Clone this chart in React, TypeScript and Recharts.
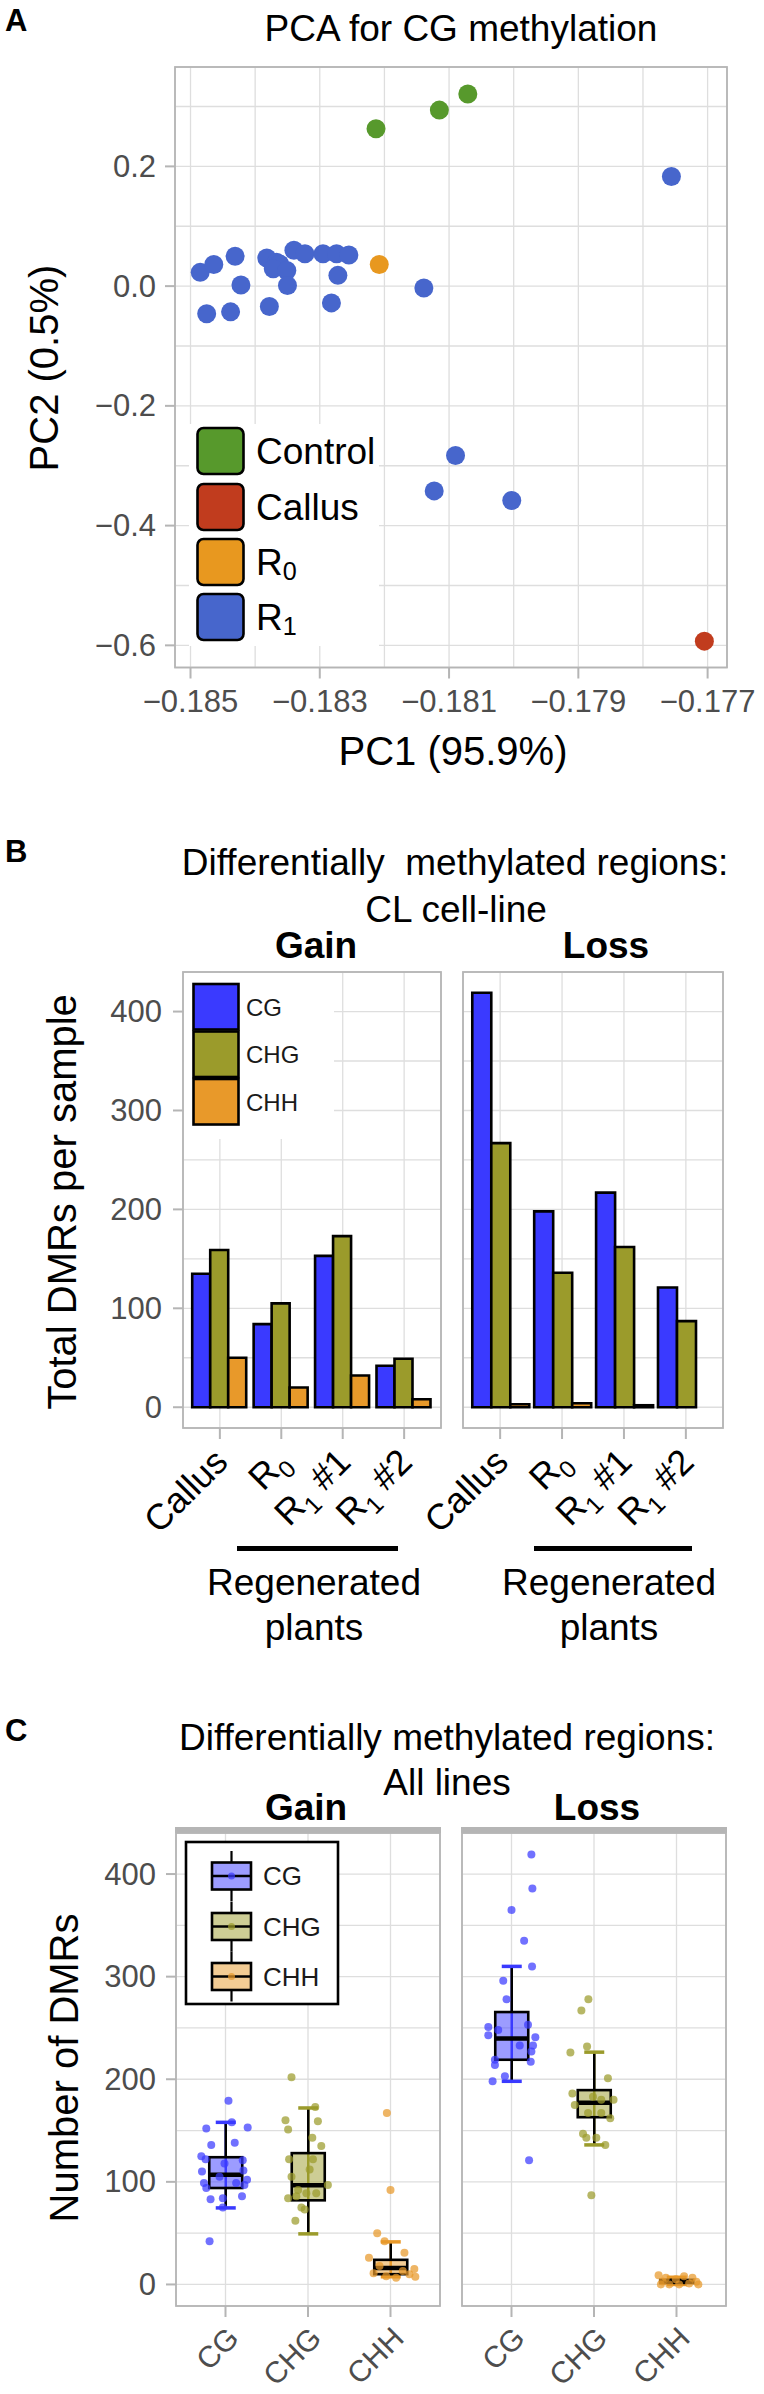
import React from "react";
import {
  ScatterChart,
  Scatter,
  BarChart,
  Bar,
  ComposedChart,
  XAxis,
  YAxis,
  CartesianGrid,
} from "recharts";

const FONT = "'Liberation Sans', Arial, Helvetica, sans-serif";
const GRID = "#dedede";
const FRAME = "#b5b5b5";
const GRAYTXT = "#4d4d4d";

// ---------- A: PCA ----------
const pcaGroups = ["Control", "Callus", "R_0", "R_1"];
const pcaColors = ["#57992c", "#c13c1e", "#e8981f", "#4766cc"];
const controlPts = [
  [-0.18213, 0.263],
  [-0.18115, 0.294],
  [-0.18071, 0.321],
];
const callusPts = [[-0.17705, -0.593]];
const r0Pts = [[-0.18208, 0.036]];
const r1Pts = [
  [-0.18485, 0.023],
  [-0.18464, 0.036],
  [-0.18431, 0.05],
  [-0.18422, 0.002],
  [-0.18475, -0.046],
  [-0.18438, -0.043],
  [-0.18382, 0.047],
  [-0.18367, 0.04],
  [-0.18362, 0.037],
  [-0.18372, 0.029],
  [-0.18351, 0.026],
  [-0.1835, 0.001],
  [-0.18378, -0.034],
  [-0.1834, 0.06],
  [-0.18323, 0.054],
  [-0.18295, 0.054],
  [-0.18274, 0.054],
  [-0.18255, 0.052],
  [-0.18272, 0.018],
  [-0.18282, -0.028],
  [-0.18139, -0.003],
  [-0.17756, 0.183],
  [-0.1809, -0.283],
  [-0.18123, -0.342],
  [-0.18003, -0.358],
];
const pcaSeries = [controlPts, callusPts, r0Pts, r1Pts];
const pcaXMajor = [-0.185, -0.183, -0.181, -0.179, -0.177];
const pcaXMinor = [-0.184, -0.182, -0.18, -0.178];
const pcaYMajor = [-0.6, -0.4, -0.2, 0, 0.2];
const pcaYMinor = [-0.5, -0.3, -0.1, 0.1, 0.3];

// ---------- B: DMRs, CL cell-line ----------
const samples = ["Callus", "R_0", "R_1 #1", "R_1 #2"];
const contexts = ["CG", "CHG", "CHH"];
const ctxColors = ["#3a3aff", "#9b9b2b", "#e8992a"];
const gainCG = [135, 84, 153, 42];
const gainCHG = [159, 105, 173, 49];
const gainCHH = [50, 20, 32, 8];
const lossCG = [419, 198, 217, 121];
const lossCHG = [267, 136, 162, 87];
const lossCHH = [3, 4, 2, 0];
const dmrMajor = [0, 100, 200, 300, 400];
const dmrMinor = [50, 150, 250, 350];

// ---------- C: DMRs, all lines (lo, q1, median, q3, hi) ----------
const gainStats = [
  [74.6, 94, 107, 124, 158],
  [49.3, 82, 96.6, 128, 172],
  [7.5, 10, 16, 24, 41.5],
];
const lossStats = [
  [198, 219, 239.6, 265.5, 310],
  [136, 163, 177, 189.4, 226.4],
  [0, 1.5, 3, 4.5, 7],
];
// [jitter, value]
const gainCGPts = [
  [0.036, 179], [-0.233, 152], [0.076, 158], [0.269, 153], [-0.173, 136], [0.112, 138],
  [-0.293, 125], [-0.241, 122], [0.209, 121], [-0.285, 110], [0.217, 111], [-0.261, 99],
  [0.261, 102], [-0.233, 94], [0.229, 97], [-0.181, 83], [-0.032, 84], [0.2, 86],
  [-0.193, 42], [-0.012, 118], [-0.072, 105], [0.129, 99], [-0.032, 75],
];
const gainCHGPts = [
  [-0.2, 202], [-0.273, 160], [-0.241, 151], [0.088, 173], [0.12, 159], [0.052, 143],
  [0.161, 135], [-0.229, 122], [0.06, 122], [0.02, 112], [-0.2, 105], [0.241, 97],
  [-0.241, 84], [-0.141, 86], [-0.02, 89], [-0.08, 75], [-0.04, 73], [-0.153, 62],
  [0.1, 89], [-0.12, 92],
];
const gainCHHPts = [
  [-0.044, 167], [0, 92], [-0.161, 50], [-0.072, 42], [0.169, 31], [-0.261, 26],
  [-0.205, 11], [0.289, 15], [0.301, 7.5], [0.149, 13], [0.068, 6.5], [-0.052, 8],
  [-0.133, 18], [0.229, 10],
];
const lossCGPts = [
  [0.241, 419], [0.253, 386], [0, 365], [0.153, 335], [0.249, 310], [-0.1, 296],
  [-0.06, 278], [-0.281, 251], [-0.281, 243], [-0.161, 248], [0.2, 253], [0.289, 241],
  [0.261, 233], [0.1, 233], [0.241, 227], [-0.201, 219], [-0.201, 214], [-0.08, 203],
  [-0.229, 198], [0.233, 217], [0.213, 121],
];
const lossCHGPts = [
  [-0.068, 278], [-0.153, 267], [-0.084, 232], [-0.286, 226], [0.169, 201], [-0.262, 186],
  [0.237, 180], [-0.233, 175], [0.197, 162], [-0.072, 167], [0.088, 167], [-0.133, 147],
  [-0.093, 143], [0.028, 143], [0.137, 136], [-0.032, 87], [-0.012, 183], [0.088, 180],
];
const lossCHHPts = [
  [-0.217, 9], [-0.169, 3], [-0.088, 0], [0.032, 0], [0.153, 1], [0.241, 2.6],
  [0.193, 6.5], [-0.129, 6.5], [-0.008, 5], [0.092, 8], [-0.189, 0], [0.265, 0],
];

// ---------- layout ----------
const A_H = 720;
const AX0 = 175, AX1 = 727, AY0 = 67, AY1 = 667.5;
const B_TOP = 900, B_H = 660, BY0 = 972, BY1 = 1428;
const C_TOP = 1800, C_H = 594, CY0 = 1833, CY1 = 2306;
const B_GAIN = { x0: 183, x1: 441 };
const B_LOSS = { x0: 463, x1: 723 };
const C_GAIN = { x0: 176, x1: 440 };
const C_LOSS = { x0: 462, x1: 726 };

const minus = (s: string) => s.replace("-", "\u2212");

function SubText({ text, size }: { text: string; size: number }) {
  const i = text.indexOf("_");
  if (i < 0) return <>{text}</>;
  const shift = size * 0.25;
  const rest = text.slice(i + 2);
  return (
    <>
      {text.slice(0, i)}
      <tspan fontSize={size * 0.68} dy={shift}>
        {text[i + 1]}
      </tspan>
      {rest ? <tspan dy={-shift}>{rest}</tspan> : null}
    </>
  );
}

function PcaChart() {
  const xTicks = [...pcaXMajor, ...pcaXMinor].sort((a, b) => a - b);
  const yTicks = [...pcaYMajor, ...pcaYMinor].sort((a, b) => a - b);
  const xTick = (p: any) => {
    const v = p.payload.value;
    if (!pcaXMajor.includes(v)) return <g />;
    return (
      <g>
        <line x1={p.x} x2={p.x} y1={p.y} y2={p.y + 11} stroke={FRAME} strokeWidth={2} />
        <text x={p.x} y={p.y + 34} textAnchor="middle" dominantBaseline="central" fontSize={31} fill={GRAYTXT} fontFamily={FONT}>
          {minus(v.toFixed(3))}
        </text>
      </g>
    );
  };
  const yTick = (p: any) => {
    const v = p.payload.value;
    if (!pcaYMajor.includes(v)) return <g />;
    return (
      <g>
        <line x1={p.x - 10} x2={p.x} y1={p.y} y2={p.y} stroke={FRAME} strokeWidth={2} />
        <text x={p.x - 19} y={p.y} textAnchor="end" dominantBaseline="central" fontSize={31} fill={GRAYTXT} fontFamily={FONT}>
          {minus(v.toFixed(1))}
        </text>
      </g>
    );
  };
  return (
    <div style={{ position: "absolute", left: 0, top: 0 }}>
      <ScatterChart width={764} height={A_H} margin={{ top: AY0, right: 764 - AX1, bottom: 0, left: 0 }}>
        <CartesianGrid stroke={GRID} strokeWidth={1.3} />
        <XAxis
          type="number"
          dataKey="x"
          domain={[-0.18524, -0.1767]}
          ticks={xTicks}
          interval={0}
          allowDataOverflow
          height={A_H - AY1}
          tick={xTick}
          tickLine={false}
          axisLine={false}
          tickSize={0}
          tickMargin={0}
        />
        <YAxis
          type="number"
          dataKey="y"
          domain={[-0.637, 0.366]}
          ticks={yTicks}
          interval={0}
          allowDataOverflow
          width={AX0}
          tick={yTick}
          tickLine={false}
          axisLine={false}
          tickSize={0}
          tickMargin={0}
        />
        {pcaSeries.map((pts, gi) => (
          <Scatter
            key={pcaGroups[gi]}
            name={pcaGroups[gi]}
            data={pts.map(([x, y]) => ({ x, y }))}
            fill={pcaColors[gi]}
            isAnimationActive={false}
            shape={(p: any) => <circle cx={p.cx} cy={p.cy} r={9.5} fill={pcaColors[gi]} />}
          />
        ))}
      </ScatterChart>
    </div>
  );
}

function BarFacet({ cg, chg, chh, x0, x1, showY }: any) {
  const rows = samples.map((s, i) => ({ sample: s, CG: cg[i], CHG: chg[i], CHH: chh[i] }));
  const leftRoom = showY ? 0 : 130;
  const divLeft = showY ? 0 : x0 - leftRoom;
  const divW = x1 + 10 - divLeft;
  const pad = ((x1 - x0) * 0.1) / 4.2;
  const yTicks = [...dmrMajor, ...dmrMinor].sort((a, b) => a - b);
  const xTick = (p: any) => {
    const ax = p.x + 10;
    const ay = p.y + 36;
    return (
      <g>
        <line x1={p.x} x2={p.x} y1={p.y} y2={p.y + 11} stroke={FRAME} strokeWidth={2} />
        <text x={ax} y={ay} textAnchor="end" fontSize={36} fill="#000" fontFamily={FONT} transform={`rotate(-45 ${ax} ${ay})`}>
          <SubText text={p.payload.value} size={36} />
        </text>
      </g>
    );
  };
  const yTick = (p: any) => {
    const v = p.payload.value;
    if (!showY || !dmrMajor.includes(v)) return <g />;
    return (
      <g>
        <line x1={p.x - 10} x2={p.x} y1={p.y} y2={p.y} stroke={FRAME} strokeWidth={2} />
        <text x={p.x - 21} y={p.y} textAnchor="end" dominantBaseline="central" fontSize={31} fill={GRAYTXT} fontFamily={FONT}>
          {v}
        </text>
      </g>
    );
  };
  return (
    <div style={{ position: "absolute", left: divLeft, top: B_TOP }}>
      <BarChart
        width={divW}
        height={B_H}
        data={rows}
        margin={{ top: BY0 - B_TOP, right: 10, bottom: 0, left: leftRoom }}
        barCategoryGap="5%"
        barGap={0}
      >
        <CartesianGrid stroke={GRID} strokeWidth={1.3} />
        <XAxis
          dataKey="sample"
          padding={{ left: pad, right: pad }}
          interval={0}
          height={B_H - (BY1 - B_TOP)}
          tick={xTick}
          tickLine={false}
          axisLine={false}
          tickSize={0}
          tickMargin={0}
        />
        <YAxis
          type="number"
          domain={[-21, 440]}
          ticks={yTicks}
          interval={0}
          allowDataOverflow
          width={showY ? x0 : 0}
          tick={yTick}
          tickLine={false}
          axisLine={false}
          tickSize={0}
          tickMargin={0}
        />
        {contexts.map((c, i) => (
          <Bar key={c} dataKey={c} fill={ctxColors[i]} stroke="#000" strokeWidth={2.6} isAnimationActive={false} />
        ))}
      </BarChart>
    </div>
  );
}

const BoxShape = (p: any) => {
  const { x, y, width, height, payload } = p;
  const { lo, q1, med, q3, hi, color } = payload;
  const py = (v: number) => y + height * (1 - v / hi);
  const cx = x + width / 2;
  const cap = 10;
  return (
    <g>
      <line x1={cx} x2={cx} y1={py(hi)} y2={py(lo)} stroke={color} strokeWidth={2.5} />
      <line x1={cx} x2={cx} y1={py(hi)} y2={py(q3)} stroke="#000" strokeWidth={2.5} />
      <line x1={cx} x2={cx} y1={py(q1)} y2={py(lo)} stroke="#000" strokeWidth={2.5} />
      <line x1={cx - cap} x2={cx + cap} y1={py(hi)} y2={py(hi)} stroke={color} strokeWidth={3.5} />
      <line x1={cx - cap} x2={cx + cap} y1={py(lo)} y2={py(lo)} stroke={color} strokeWidth={3.5} />
      <rect x={x} y={py(q3)} width={width} height={py(q1) - py(q3)} fill={color} fillOpacity={0.5} stroke="#000" strokeWidth={2.6} />
      <line x1={x} x2={x + width} y1={py(med)} y2={py(med)} stroke="#000" strokeWidth={4.5} />
    </g>
  );
};

function BoxFacet({ stats, pts, x0, x1, showY }: any) {
  const boxData = contexts.map((c, i) => ({
    ctx: c,
    lo: stats[i][0],
    q1: stats[i][1],
    med: stats[i][2],
    q3: stats[i][3],
    hi: stats[i][4],
    color: ctxColors[i],
  }));
  const ptData = contexts.flatMap((c, i) =>
    pts[i].map(([j, v]: number[]) => ({ x: i + 1 + j, y: v, ci: i }))
  );
  const leftRoom = showY ? 0 : 22;
  const divLeft = showY ? 0 : x0 - leftRoom;
  const divW = x1 + 14 - divLeft;
  const pad = ((x1 - x0) * 0.1) / 3.2;
  const yTicks = [...dmrMajor, ...dmrMinor].sort((a, b) => a - b);
  const xTick = (p: any) => {
    const ax = p.x + 15;
    const ay = p.y + 34;
    return (
      <g>
        <line x1={p.x} x2={p.x} y1={p.y} y2={p.y + 11} stroke={FRAME} strokeWidth={2} />
        <text x={ax} y={ay} textAnchor="end" fontSize={30} fill={GRAYTXT} fontFamily={FONT} transform={`rotate(-45 ${ax} ${ay})`}>
          {p.payload.value}
        </text>
      </g>
    );
  };
  const yTick = (p: any) => {
    const v = p.payload.value;
    if (!showY || !dmrMajor.includes(v)) return <g />;
    return (
      <g>
        <line x1={p.x - 10} x2={p.x} y1={p.y} y2={p.y} stroke={FRAME} strokeWidth={2} />
        <text x={p.x - 20} y={p.y} textAnchor="end" dominantBaseline="central" fontSize={31} fill={GRAYTXT} fontFamily={FONT}>
          {v}
        </text>
      </g>
    );
  };
  return (
    <div style={{ position: "absolute", left: divLeft, top: C_TOP }}>
      <ComposedChart
        width={divW}
        height={C_H}
        data={boxData}
        margin={{ top: CY0 - C_TOP, right: 14, bottom: 0, left: leftRoom }}
      >
        <CartesianGrid xAxisId="cat" stroke={GRID} strokeWidth={1.3} />
        <XAxis
          xAxisId="cat"
          dataKey="ctx"
          padding={{ left: pad, right: pad }}
          interval={0}
          height={C_H - (CY1 - C_TOP)}
          tick={xTick}
          tickLine={false}
          axisLine={false}
          tickSize={0}
          tickMargin={0}
        />
        <XAxis xAxisId="num" type="number" dataKey="x" domain={[0.4, 3.6]} allowDataOverflow hide />
        <YAxis
          type="number"
          domain={[-21, 440]}
          ticks={yTicks}
          interval={0}
          allowDataOverflow
          width={showY ? x0 : 0}
          tick={yTick}
          tickLine={false}
          axisLine={false}
          tickSize={0}
          tickMargin={0}
        />
        <Scatter
          xAxisId="num"
          data={ptData}
          dataKey="y"
          isAnimationActive={false}
          shape={(p: any) => (
            <circle cx={p.cx} cy={p.cy} r={4} fill={ctxColors[p.payload.ci]} fillOpacity={0.72} />
          )}
        />
        <Bar xAxisId="cat" dataKey="hi" barSize={33} shape={BoxShape} isAnimationActive={false} />
      </ComposedChart>
    </div>
  );
}

function T({ x, y, size, children, bold, anchor = "middle", rotate, fill = "#000" }: any) {
  return (
    <text
      x={x}
      y={y}
      fontSize={size}
      fontWeight={bold ? "bold" : "normal"}
      textAnchor={anchor}
      dominantBaseline="central"
      fill={fill}
      fontFamily={FONT}
      style={{ whiteSpace: "pre" }}
      transform={rotate ? `rotate(${rotate} ${x} ${y})` : undefined}
    >
      {children}
    </text>
  );
}

function Overlay() {
  const frame = (x0: number, y0: number, x1: number, y1: number) => (
    <rect x={x0} y={y0} width={x1 - x0} height={y1 - y0} fill="none" stroke={FRAME} strokeWidth={1.8} />
  );
  const pcaKeyTop = [428, 484, 539, 594];
  const bKeyTop = [984, 1031.5, 1079];
  const cKeyMid = [1876, 1926.5, 1976.5];
  return (
    <svg width={764} height={2394} style={{ position: "absolute", left: 0, top: 0, pointerEvents: "none" }}>
      {/* A */}
      {frame(AX0, AY0, AX1, AY1)}
      <T x={5} y={20} size={31} bold anchor="start">A</T>
      <T x={461} y={28} size={37}>PCA for CG methylation</T>
      <T x={453} y={751} size={40}>PC1 (95.9%)</T>
      <T x={44} y={368} size={40} rotate={-90}>PC2 (0.5%)</T>
      <rect x={189} y={424} width={190} height={222} fill="#fff" />
      {pcaGroups.map((g, i) => (
        <g key={g}>
          <rect x={197.5} y={pcaKeyTop[i]} width={46} height={46} rx={6} fill={pcaColors[i]} stroke="#000" strokeWidth={2.6} />
          <T x={256} y={pcaKeyTop[i] + 23} size={37} anchor="start">
            <SubText text={g} size={37} />
          </T>
        </g>
      ))}

      {/* B */}
      {frame(B_GAIN.x0, BY0, B_GAIN.x1, BY1)}
      {frame(B_LOSS.x0, BY0, B_LOSS.x1, BY1)}
      <T x={5} y={851} size={31} bold anchor="start">B</T>
      <T x={455} y={862} size={37}>Differentially  methylated regions:</T>
      <T x={456} y={909} size={37}>CL cell-line</T>
      <T x={316} y={945} size={37} bold>Gain</T>
      <T x={606} y={945} size={37} bold>Loss</T>
      <T x={62} y={1202} size={40} rotate={-90}>Total DMRs per sample</T>
      <rect x={B_GAIN.x0 + 1} y={BY0 + 1} width={150} height={166} fill="#fff" />
      {contexts.map((c, i) => (
        <g key={c}>
          <rect x={193.5} y={bKeyTop[i]} width={45} height={45.5} fill={ctxColors[i]} stroke="#000" strokeWidth={2.6} />
          <T x={246} y={bKeyTop[i] + 23} size={24} anchor="start" fill="#1a1a1a">{c}</T>
        </g>
      ))}
      <rect x={237} y={1546} width={161} height={5} fill="#000" />
      <rect x={534} y={1546} width={158} height={5} fill="#000" />
      <T x={314} y={1582} size={37}>Regenerated</T>
      <T x={314} y={1627} size={37}>plants</T>
      <T x={609} y={1582} size={37}>Regenerated</T>
      <T x={609} y={1627} size={37}>plants</T>

      {/* C */}
      {frame(C_GAIN.x0, CY0, C_GAIN.x1, CY1)}
      {frame(C_LOSS.x0, CY0, C_LOSS.x1, CY1)}
      <rect x={C_GAIN.x0 - 1} y={CY0 - 6} width={C_GAIN.x1 - C_GAIN.x0 + 2} height={6} fill={FRAME} />
      <rect x={C_LOSS.x0 - 1} y={CY0 - 6} width={C_LOSS.x1 - C_LOSS.x0 + 2} height={6} fill={FRAME} />
      <T x={5} y={1730} size={31} bold anchor="start">C</T>
      <T x={447} y={1737} size={37}>Differentially methylated regions:</T>
      <T x={447} y={1782} size={37}>All lines</T>
      <T x={306} y={1807} size={37} bold>Gain</T>
      <T x={597} y={1807} size={37} bold>Loss</T>
      <T x={64} y={2068} size={40} rotate={-90}>Number of DMRs</T>
      <rect x={186} y={1842} width={152} height={162} fill="#fff" stroke="#000" strokeWidth={2.6} />
      {contexts.map((c, i) => (
        <g key={c}>
          <line x1={231.5} x2={231.5} y1={cKeyMid[i] - 25} y2={cKeyMid[i] + 25} stroke="#000" strokeWidth={2.2} />
          <rect x={212} y={cKeyMid[i] - 13.5} width={39} height={27} fill="#fff" />
          <rect x={212} y={cKeyMid[i] - 13.5} width={39} height={27} fill={ctxColors[i]} fillOpacity={0.5} stroke="#000" strokeWidth={2.6} />
          <line x1={212} x2={251} y1={cKeyMid[i]} y2={cKeyMid[i]} stroke="#000" strokeWidth={2.6} />
          <circle cx={231.5} cy={cKeyMid[i]} r={3.5} fill={ctxColors[i]} fillOpacity={0.72} />
          <T x={263} y={cKeyMid[i]} size={26} anchor="start" fill="#1a1a1a">{c}</T>
        </g>
      ))}
    </svg>
  );
}

export default function App() {
  return (
    <div
      style={{
        position: "absolute",
        left: 0,
        top: 0,
        width: 764,
        height: 2394,
        background: "#fff",
        overflow: "hidden",
        fontFamily: FONT,
      }}
    >
      <PcaChart />
      <BarFacet cg={gainCG} chg={gainCHG} chh={gainCHH} x0={B_GAIN.x0} x1={B_GAIN.x1} showY />
      <BarFacet cg={lossCG} chg={lossCHG} chh={lossCHH} x0={B_LOSS.x0} x1={B_LOSS.x1} showY={false} />
      <BoxFacet stats={gainStats} pts={[gainCGPts, gainCHGPts, gainCHHPts]} x0={C_GAIN.x0} x1={C_GAIN.x1} showY />
      <BoxFacet stats={lossStats} pts={[lossCGPts, lossCHGPts, lossCHHPts]} x0={C_LOSS.x0} x1={C_LOSS.x1} showY={false} />
      <Overlay />
    </div>
  );
}
